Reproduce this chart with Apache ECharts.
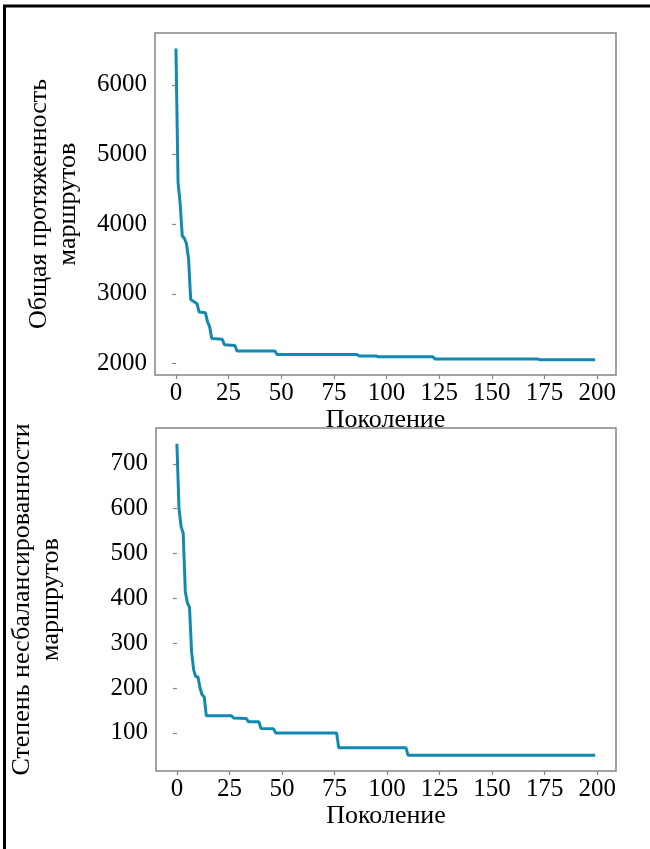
<!DOCTYPE html>
<html>
<head>
<meta charset="utf-8">
<script src="https://cdn.jsdelivr.net/npm/echarts@6/dist/echarts.min.js"></script>
<style>
  html, body { margin: 0; padding: 0; background: #fff; }
  #chart { width: 650px; height: 849px; }
</style>
</head>
<body>
<div id="chart"></div>
<script>
// Generation ticks shared by both panels
const genTicks = [0, 25, 50, 75, 100, 125, 150, 175, 200];

// Total route length per generation: [generation, value] at each change
const lengthPoints = [
  [0, 6520], [1, 4600], [2, 4300], [3, 3830], [4, 3800], [5, 3720], [6, 3500],
  [7, 2920], [8, 2900], [9, 2880], [10, 2860], [11, 2740], [14, 2730],
  [15, 2600], [16, 2530], [17, 2360], [22, 2350], [23, 2270], [28, 2260],
  [29, 2180], [47, 2180], [48, 2130], [86, 2130], [87, 2110], [95, 2110],
  [96, 2098], [122, 2098], [123, 2065], [172, 2065], [173, 2055], [199, 2055]
];
const lengthTicks = [2000, 3000, 4000, 5000, 6000];

// Route imbalance per generation: [generation, value] at each change
const imbalancePoints = [
  [0, 745], [1, 600], [2, 560], [3, 545], [4, 415], [5, 390], [6, 380],
  [7, 280], [8, 240], [9, 225], [10, 225], [11, 200], [12, 185], [13, 180],
  [14, 138], [26, 138], [27, 133], [33, 132], [34, 125], [39, 125],
  [40, 110], [46, 109], [47, 100], [76, 100], [77, 67], [109, 67],
  [110, 50], [199, 50]
];
const imbalanceTicks = [100, 200, 300, 400, 500, 600, 700];

const FONT = '"Liberation Serif", "Times New Roman", serif';
const FS = 25;      // tick labels
const FS_NAME = 26; // axis titles
const LINE_COLOR = '#1289b0';
const FRAME = '#858585';

const plain = v => String(v);

function xAxisFor(gridIndex) {
  return {
    type: 'value', gridIndex: gridIndex,
    min: -9.95, max: 208.95,
    name: 'Поколение', nameLocation: 'middle', nameGap: 22,
    nameTextStyle: { fontFamily: FONT, fontSize: FS_NAME, color: '#000' },
    axisLine: { show: false },
    axisTick: { show: true, length: 4, inside: false, customValues: genTicks,
                lineStyle: { color: FRAME, width: 1.2 } },
    axisLabel: { fontFamily: FONT, fontSize: FS, color: '#000', margin: 6,
                 customValues: genTicks, formatter: plain },
    splitLine: { show: false }
  };
}

function yAxisFor(gridIndex, min, max, ticks, title, gap) {
  return {
    type: 'value', gridIndex: gridIndex,
    min: min, max: max,
    name: title, nameLocation: 'middle', nameGap: gap,
    nameTextStyle: { fontFamily: FONT, fontSize: FS_NAME, color: '#000', lineHeight: 29 },
    axisLine: { show: false },
    axisTick: { show: true, length: 4, customValues: ticks,
                lineStyle: { color: FRAME, width: 1.2 } },
    axisLabel: { fontFamily: FONT, fontSize: FS, color: '#000', margin: 8,
                 customValues: ticks, formatter: plain },
    splitLine: { show: false }
  };
}

const chart = echarts.init(document.getElementById('chart'), null, { renderer: 'canvas' });
chart.setOption({
  backgroundColor: '#fff',
  animation: false,
  grid: [
    { left: 155, top: 33, width: 461, height: 342, show: true,
      borderColor: FRAME, borderWidth: 1.5, backgroundColor: 'transparent' },
    { left: 155, top: 428, width: 461, height: 343, show: true,
      borderColor: FRAME, borderWidth: 1.5, backgroundColor: 'transparent' }
  ],
  xAxis: [xAxisFor(0), xAxisFor(1)],
  yAxis: [
    yAxisFor(0, 1837, 6743, lengthTicks, 'Общая протяженность\nмаршрутов', 72),
    yAxisFor(1, 15, 780, imbalanceTicks, 'Степень несбалансированности\nмаршрутов', 90)
  ],
  series: [
    { type: 'line', xAxisIndex: 0, yAxisIndex: 0, data: lengthPoints,
      showSymbol: false, lineStyle: { color: LINE_COLOR, width: 3 } },
    { type: 'line', xAxisIndex: 1, yAxisIndex: 1, data: imbalancePoints,
      showSymbol: false, lineStyle: { color: LINE_COLOR, width: 3 } }
  ],
  graphic: [
    { type: 'polyline', shape: { points: [[4.5, 849], [4.5, 6], [650, 6]] },
      style: { stroke: '#000', lineWidth: 3, fill: null } }
  ]
});
</script>
</body>
</html>
